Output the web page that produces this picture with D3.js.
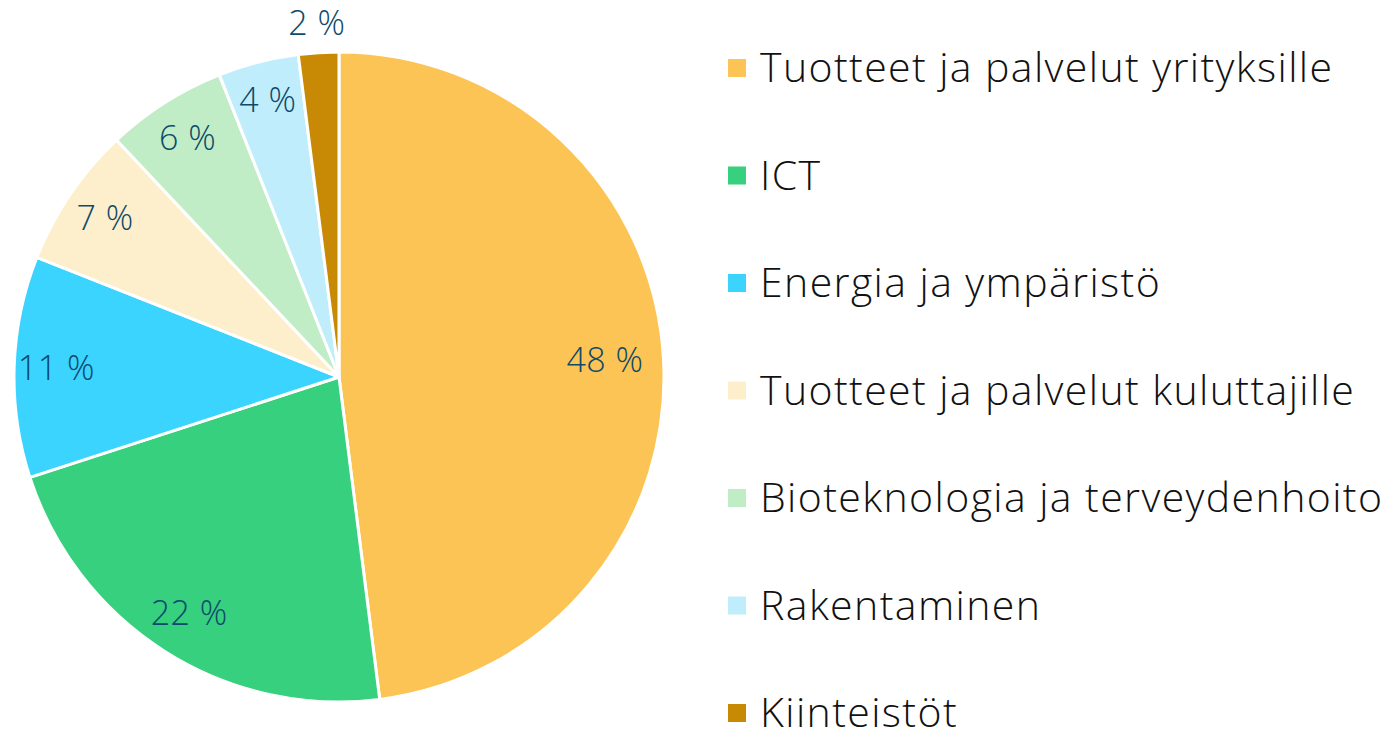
<!DOCTYPE html>
<html>
<head>
<meta charset="utf-8">
<script src="https://cdn.jsdelivr.net/npm/d3@7"></script>
<style>
  body { margin: 0; background: #fff; }
  svg { display: block; font-family: "Open Sans", "Lato", sans-serif; font-weight: 300; }
</style>
</head>
<body>
<svg id="chart"></svg>
<script>
var categories = [
  "Tuotteet ja palvelut yrityksille",
  "ICT",
  "Energia ja ympäristö",
  "Tuotteet ja palvelut kuluttajille",
  "Bioteknologia ja terveydenhoito",
  "Rakentaminen",
  "Kiinteistöt"
];
var values = [48, 22, 11, 7, 6, 4, 2];
var colors = ["#fbc454", "#36d07f", "#3ad4ff", "#fdefcb", "#c0edc6", "#c0edfb", "#c88a04"];
var labelRadius = [0.82, 0.86, 0.87, 0.87, 0.87, 0.88, 1.09];

var dimensions = {
  width: 1393,
  height: 734,
  cx: 339,
  cy: 377,
  radius: 325
};

var svg = d3
  .select("#chart")
  .attr("width", dimensions.width)
  .attr("height", dimensions.height);

var data = categories.map(function (c, i) {
  return { name: c, value: values[i], color: colors[i], lr: labelRadius[i] };
});

var pie = d3.pie().sort(null).value(function (d) { return d.value; });
var arcs = pie(data);

var arc = d3.arc().innerRadius(0).outerRadius(dimensions.radius);

var pieG = svg
  .append("g")
  .attr("transform", "translate(" + dimensions.cx + "," + dimensions.cy + ")");

pieG
  .selectAll("path")
  .data(arcs)
  .enter()
  .append("path")
  .attr("d", arc)
  .attr("fill", function (d) { return d.data.color; })
  .attr("stroke", "#fff")
  .attr("stroke-width", 3)
  .attr("stroke-linejoin", "round");

pieG
  .selectAll("text.lbl")
  .data(arcs)
  .enter()
  .append("text")
  .attr("class", "lbl")
  .attr("transform", function (d) {
    var r = dimensions.radius * d.data.lr;
    var a = (d.startAngle + d.endAngle) / 2;
    return "translate(" + r * Math.sin(a) + "," + -r * Math.cos(a) + ")";
  })
  .attr("text-anchor", "middle")
  .attr("dy", "0.35em")
  .attr("font-size", 34)
  .attr("letter-spacing", 0.5)
  .attr("fill", "#0d4a6b")
  .text(function (d) { return d.data.value + " %"; });

var legend = svg
  .append("g")
  .attr("transform", "translate(728,68)");

var rows = legend
  .selectAll("g")
  .data(data)
  .enter()
  .append("g")
  .attr("transform", function (d, i) { return "translate(0," + i * 107.5 + ")"; });

rows
  .append("rect")
  .attr("x", 0)
  .attr("y", -9)
  .attr("width", 18)
  .attr("height", 18)
  .attr("fill", function (d) { return d.color; });

rows
  .append("text")
  .attr("x", 32)
  .attr("dy", "0.35em")
  .attr("font-size", 41)
  .attr("letter-spacing", 1.4)
  .attr("fill", "#111")
  .text(function (d) { return d.name; });
</script>
</body>
</html>
